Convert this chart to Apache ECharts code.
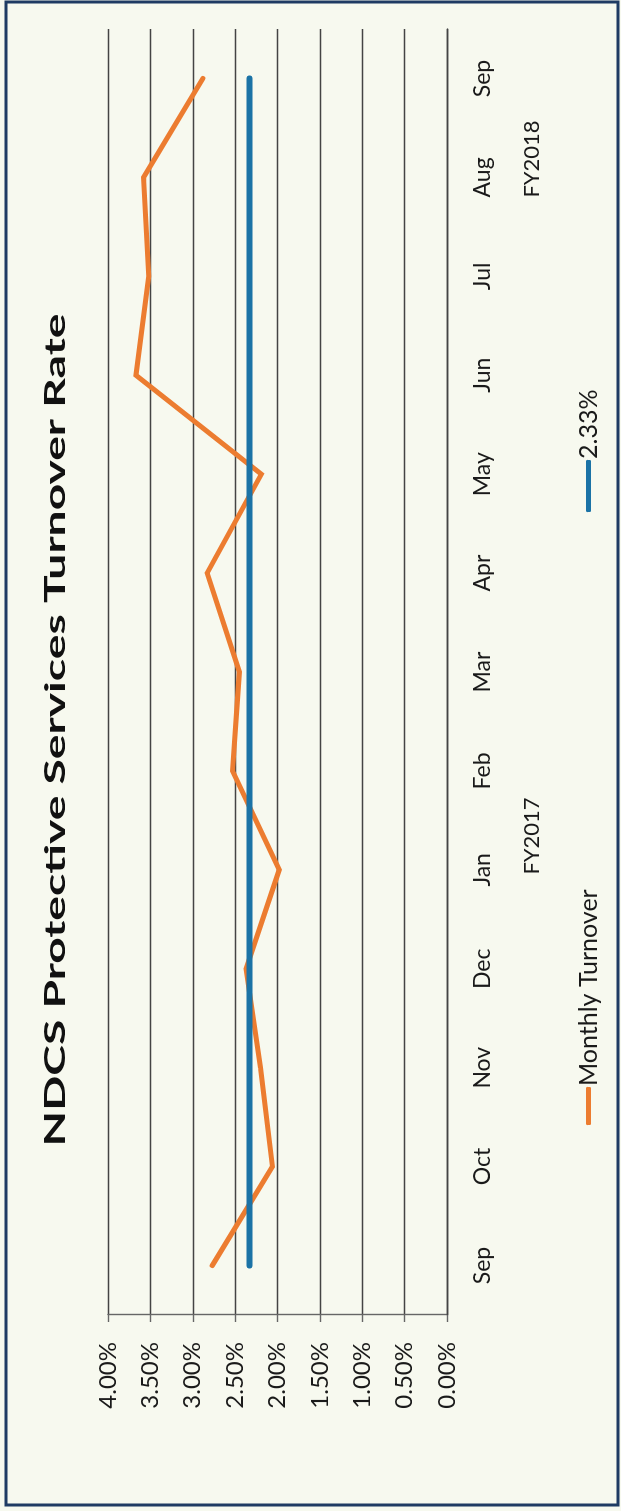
<!DOCTYPE html>
<html>
<head>
<meta charset="utf-8">
<script src="https://cdn.jsdelivr.net/npm/echarts@6/dist/echarts.min.js"></script>
<style>
html,body{margin:0;padding:0;width:621px;height:1511px;overflow:hidden;background:#f7f9ef;}
#c{position:absolute;left:0;top:1511px;width:1511px;height:621px;transform-origin:0 0;transform:rotate(-90deg);}
</style>
</head>
<body>
<div id="c"></div>
<script>
const months = ['Sep','Oct','Nov','Dec','Jan','Feb','Mar','Apr','May','Jun','Jul','Aug','Sep'];
const monthlyTurnover = [2.77, 2.06, 2.20, 2.37, 1.98, 2.53, 2.45, 2.83, 2.19, 3.67, 3.52, 3.58, 2.88];
const averageTurnover = [2.33, 2.33, 2.33, 2.33, 2.33, 2.33, 2.33, 2.33, 2.33, 2.33, 2.33, 2.33, 2.33];
const seriesNames = ['Monthly Turnover', '2.33%'];
const titleText = 'NDCS Protective Services Turnover Rate';
const fyLabels = ['FY2017', 'FY2018'];

const FONT = 'Lato, "Open Sans", sans-serif';
const chart = echarts.init(document.getElementById('c'), null, {renderer: 'canvas'});
chart.setOption({
  backgroundColor: '#f7f9ef',
  animation: false,
  grid: {left: 196, right: 29, top: 108, bottom: 174, containLabel: false},
  xAxis: {
    type: 'category',
    data: months,
    boundaryGap: true,
    axisLine: {show: true, lineStyle: {color: '#444', width: 1.4}},
    axisTick: {show: false},
    axisLabel: {margin: 24, fontFamily: FONT, fontSize: 23, color: '#1a1a1a', interval: 0}
  },
  yAxis: {
    type: 'value',
    min: 0, max: 4, interval: 0.5,
    axisLine: {show: true, lineStyle: {color: '#666', width: 1.4}},
    axisTick: {show: true, length: 7, lineStyle: {color: '#666', width: 1.4}},
    splitLine: {show: true, lineStyle: {color: '#444', width: 1.4}},
    axisLabel: {margin: 27, fontFamily: FONT, fontSize: 24, color: '#1a1a1a',
      formatter: v => v.toFixed(2) + '%'}
  },
  legend: [
    {data: [seriesNames[0]], left: 386, top: 576, orient: 'horizontal', icon: 'roundRect',
     itemWidth: 38, itemHeight: 5, padding: 0,
     textStyle: {fontFamily: FONT, fontSize: 25, color: '#1a1a1a', padding: [0,0,0,-4]}},
    {data: [seriesNames[1]], left: 999, top: 576, orient: 'horizontal', icon: 'roundRect',
     itemWidth: 52, itemHeight: 5, padding: 0,
     textStyle: {fontFamily: FONT, fontSize: 25, color: '#1a1a1a', padding: [0,0,0,-4]}}
  ],
  series: [
    {name: seriesNames[0], type: 'line', data: monthlyTurnover, showSymbol: false, symbol: 'none',
     itemStyle: {color: '#ec7c30'},
     lineStyle: {color: '#ec7c30', width: 5, cap: 'round', join: 'miter'}, z: 2},
    {name: seriesNames[1], type: 'line', data: averageTurnover, showSymbol: false, symbol: 'none',
     itemStyle: {color: '#1b73a6'},
     lineStyle: {color: '#1b73a6', width: 6, cap: 'round'}, z: 3}
  ],
  graphic: [
    {type: 'rect', shape: {x: 6, y: 6, width: 1503, height: 612},
     style: {fill: 'none', stroke: '#1f3b63', lineWidth: 3}, silent: true},
    {type: 'text', x: 781, y: 56, scaleX: 1.65, scaleY: 1,
     style: {text: titleText, fontFamily: FONT, fontWeight: 'bold', fontSize: 28, fill: '#111',
       textAlign: 'center', textVerticalAlign: 'middle'}},
    {type: 'text', x: 675, y: 532,
     style: {text: fyLabels[0], fontFamily: FONT, fontSize: 22, fill: '#1a1a1a',
       textAlign: 'center', textVerticalAlign: 'middle'}},
    {type: 'text', x: 1352, y: 532,
     style: {text: fyLabels[1], fontFamily: FONT, fontSize: 22, fill: '#1a1a1a',
       textAlign: 'center', textVerticalAlign: 'middle'}}
  ]
});
</script>
</body>
</html>
